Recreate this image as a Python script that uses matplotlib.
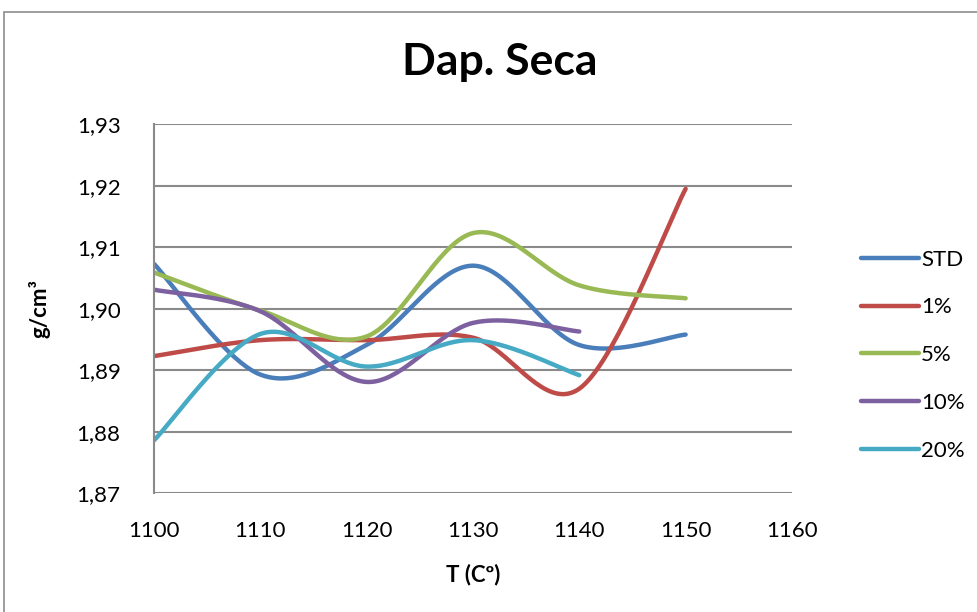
import numpy as np
import matplotlib.pyplot as plt
from matplotlib.patches import Rectangle

plt.rcParams['font.family'] = ['Lato', 'DejaVu Sans']

temperaturas = [1100, 1110, 1120, 1130, 1140, 1150]
std = [1.9073, 1.8893, 1.8941, 1.9070, 1.8941, 1.8958]
um = [1.8923, 1.8949, 1.8949, 1.8953, 1.8870, 1.9195]
cinco = [1.9059, 1.8997, 1.8955, 1.9123, 1.9038, 1.9017]
dez = [1.9031, 1.8996, 1.8881, 1.8977, 1.8963]
vinte = [1.8786, 1.8959, 1.8906, 1.8949, 1.8892]

series = [('STD', std, '#4A7EBB'),
          ('1%', um, '#BE4B48'),
          ('5%', cinco, '#98B954'),
          ('10%', dez, '#7D60A0'),
          ('20%', vinte, '#46AAC5')]


def suavizar(xs, ys, n=40):
    # curva tipo Excel: bezier com pontos de controle de Catmull-Rom
    p = np.column_stack([xs, ys]).astype(float)
    p_ext = np.vstack([p[0], p, p[-1]])
    cx, cy = [], []
    t = np.linspace(0, 1, n)
    for i in range(len(p) - 1):
        p0, p1, p2, p3 = p_ext[i], p_ext[i+1], p_ext[i+2], p_ext[i+3]
        c1 = p1 + (p2 - p0) / 6
        c2 = p2 - (p3 - p1) / 6
        b = ((1-t)**3)[:, None]*p1 + (3*(1-t)**2*t)[:, None]*c1 \
            + (3*(1-t)*t**2)[:, None]*c2 + (t**3)[:, None]*p2
        cx.extend(b[:, 0])
        cy.extend(b[:, 1])
    return cx, cy


fig = plt.figure(figsize=(9.77, 6.12), dpi=100)
ax = fig.add_axes([0.1576, 0.194, 0.6530, 0.603])

fig.patches.append(Rectangle((4/977, -0.1), 1.2, 1 - 12/612 + 0.1,
                             transform=fig.transFigure, fill=False,
                             edgecolor='#8c8c8c', linewidth=1.2))

for nome, valores, cor in series:
    xs, ys = suavizar(temperaturas[:len(valores)], valores)
    ax.plot(xs, ys, color=cor, linewidth=3.2, solid_capstyle='round', label=nome)

ax.set_xlim(1100, 1160)
ax.set_ylim(1.87, 1.93)
ax.set_xticks(range(1100, 1161, 10))
ax.set_yticks(np.arange(1.87, 1.9301, 0.01))
ax.set_yticklabels([f'{v:.2f}'.replace('.', ',') for v in np.arange(1.87, 1.9301, 0.01)])
ax.grid(axis='y', color='#8a8a8a', linewidth=1.5)
ax.set_axisbelow(True)
for lado in ['top', 'right', 'bottom']:
    ax.spines[lado].set_visible(False)
ax.spines['left'].set_color('#8a8a8a')
ax.spines['left'].set_linewidth(1.5)
ax.tick_params(length=0, labelsize=16)
ax.tick_params(axis='y', pad=24)
ax.tick_params(axis='x', pad=20)

ax.set_xlabel('T (Cº)', fontsize=16, fontweight='bold', labelpad=16)
ax.set_ylabel('g/cm³', fontsize=16, fontweight='bold', labelpad=19)
fig.text(500/977, 1 - 62/612, 'Dap. Seca', ha='center', va='center',
         fontsize=32, fontweight='bold')

ax.legend(loc='center left', bbox_to_anchor=(1.077, 0.374), frameon=False,
          fontsize=16, handlelength=2.6, handletextpad=0.1, labelspacing=1.25)

fig.savefig('out.png', dpi=100)
